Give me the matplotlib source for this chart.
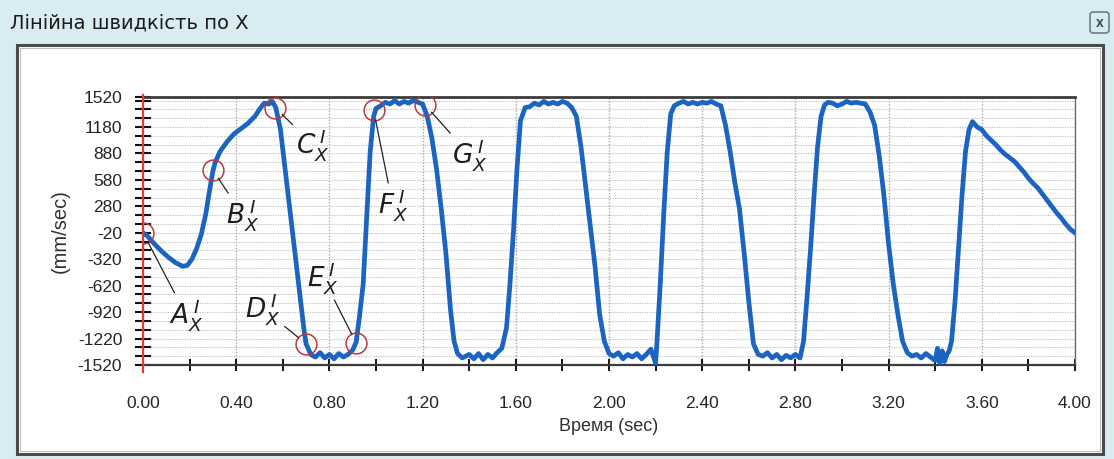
import numpy as np
import matplotlib as mpl
mpl.use('AGG')
import matplotlib.pyplot as plt
from matplotlib.ticker import FixedLocator, MultipleLocator, FormatStrFormatter
from matplotlib.patches import Rectangle, FancyBboxPatch

mpl.rc('font', **{'family': 'sans-serif', 'sans-serif': ['Liberation Sans', 'DejaVu Sans'], 'size': 12})
mpl.rc('mathtext', fontset='dejavusans')
mpl.rc('axes', unicode_minus=False)
mpl.rc('xtick', color='#111111')
mpl.rc('ytick', color='#111111')

# ---- data ----
t = [0.00, 0.02, 0.05, 0.08, 0.11, 0.14, 0.17, 0.19, 0.21, 0.23, 0.25, 0.27, 0.285, 0.30, 0.31,
     0.33, 0.36, 0.39, 0.42, 0.45, 0.48, 0.50, 0.52, 0.54, 0.555, 0.57, 0.59, 0.61, 0.63, 0.65,
     0.67, 0.69, 0.70, 0.72, 0.74, 0.76, 0.78, 0.80, 0.82, 0.84, 0.86, 0.88, 0.90, 0.915, 0.93,
     0.945, 0.96, 0.975, 0.99, 1.00, 1.02, 1.04, 1.06, 1.08, 1.10, 1.12, 1.14, 1.16, 1.18, 1.20,
     1.22, 1.24, 1.26, 1.28, 1.30, 1.32, 1.335, 1.35, 1.37, 1.40, 1.42, 1.44, 1.46, 1.48, 1.50,
     1.52, 1.54, 1.56, 1.575, 1.59, 1.605, 1.62, 1.64, 1.66, 1.68, 1.70, 1.72, 1.74, 1.76, 1.78,
     1.80, 1.82, 1.84, 1.86, 1.88, 1.90, 1.92, 1.94, 1.96, 1.98, 2.00, 2.02, 2.04, 2.06, 2.08,
     2.10, 2.12, 2.14, 2.16, 2.18, 2.19, 2.20, 2.205, 2.22, 2.235, 2.25, 2.265, 2.28, 2.30, 2.32,
     2.34, 2.36, 2.38, 2.40, 2.42, 2.44, 2.46, 2.48, 2.50, 2.52, 2.54, 2.56, 2.58, 2.60, 2.62,
     2.64, 2.66, 2.68, 2.70, 2.72, 2.74, 2.76, 2.78, 2.80, 2.82, 2.835, 2.85, 2.865, 2.88, 2.895,
     2.91, 2.925, 2.94, 2.96, 2.98, 3.00, 3.02, 3.04, 3.06, 3.08, 3.10, 3.12, 3.14, 3.16, 3.18,
     3.20, 3.22, 3.24, 3.26, 3.28, 3.30, 3.32, 3.34, 3.36, 3.38, 3.40, 3.41, 3.42, 3.43, 3.44,
     3.45, 3.46, 3.47, 3.485, 3.50, 3.515, 3.53, 3.545, 3.56, 3.58, 3.60, 3.62, 3.64, 3.66, 3.68,
     3.70, 3.72, 3.74, 3.76, 3.78, 3.80, 3.82, 3.84, 3.86, 3.88, 3.90, 3.92, 3.94, 3.96, 3.98,
     4.00]
v = [-20, -60, -150, -230, -300, -360, -400, -390, -320, -200, -40, 200, 450, 680, 780,
     900, 1010, 1100, 1160, 1220, 1300, 1380, 1450, 1440, 1470, 1400, 1150, 700, 250, -200,
     -650, -1100, -1280, -1400, -1430, -1380, -1440, -1400, -1450, -1390, -1430, -1400, -1350, -1260, -950,
     -600, 150, 900, 1300, 1390, 1420, 1460, 1440, 1480, 1440, 1470, 1450, 1480, 1460, 1440,
     1300, 1050, 700, 250, -250, -900, -1250, -1390, -1440, -1400, -1450, -1390, -1460, -1400, -1440,
     -1380, -1330, -1100, -600, 0, 700, 1250, 1400, 1410, 1450, 1430, 1470, 1440, 1460, 1440,
     1470, 1450, 1400, 1300, 950, 500, 50, -400, -950, -1250, -1390, -1420, -1380, -1450, -1400,
     -1430, -1390, -1450, -1400, -1340, -1420, -1500, -1300, -600, 200, 900, 1330, 1420, 1450, 1470,
     1440, 1460, 1440, 1460, 1450, 1470, 1440, 1420, 1200, 900, 550, 250, -250, -800, -1280,
     -1400, -1420, -1380, -1440, -1400, -1460, -1410, -1440, -1400, -1440, -1250, -750, -200, 400, 950,
     1300, 1430, 1460, 1450, 1420, 1440, 1470, 1450, 1460, 1450, 1440, 1350, 1200, 850, 400,
     -150, -600, -950, -1250, -1380, -1420, -1400, -1440, -1390, -1430, -1470, -1330, -1500, -1360, -1480,
     -1400, -1360, -1250, -800, -200, 400, 900, 1150, 1240, 1180, 1150, 1080, 1030, 980, 920,
     870, 830, 790, 730, 670, 600, 540, 490, 420, 350, 280, 210, 150, 80, 20,
     -20]

# marked points A..G
mark_names = ['A', 'B', 'C', 'D', 'E', 'F', 'G']
mark_t = [0.0, 0.30, 0.567, 0.70, 0.915, 0.99, 1.21]
mark_v = [-20, 690, 1400, -1280, -1270, 1370, 1430]

y_ticks = [-1520, -1220, -920, -620, -320, -20, 280, 580, 880, 1180, 1520]
y_minor = list(range(-1520, 1521, 100))

# label offsets (pixels) from each circle
label_off = [(43, -82), (30, -45), (38, -37), (-43, 35), (-33, 65), (19, -95), (45, -50)]

W, H = 1114, 459
fig = plt.figure(figsize=(W / 100., H / 100.), dpi=100)

# ---- window decoration (pixel coords) ----
bg = fig.add_axes([0, 0, 1, 1], zorder=-5)
bg.set_xlim(0, W)
bg.set_ylim(H, 0)
bg.axis('off')
bg.add_patch(Rectangle((0, 0), W, H, facecolor='#d9ecf1', edgecolor='none'))
grad = np.linspace(0, 1, 256).reshape(1, -1)
cmap = mpl.colors.LinearSegmentedColormap.from_list('tb', ['#eef4f5', '#d6eef3', '#bce9f3'])
bg.imshow(grad, extent=(0, W, 44, 0), aspect='auto', cmap=cmap, zorder=0)
bg.add_patch(Rectangle((17, 45), 1086, 409, facecolor='white', edgecolor='#4a4a4a', lw=2.2, zorder=1))
bg.add_patch(Rectangle((20, 48), 1080, 403, facecolor='none', edgecolor='#bdbdbd', lw=0.8, zorder=1))
bg.add_patch(FancyBboxPatch((1091, 13), 17, 19, boxstyle='round,pad=1,rounding_size=3',
                            facecolor='#d6ecf1', edgecolor='#6b7f86', lw=1.2, zorder=1))
bg.text(1099.5, 23, 'x', ha='center', va='center', fontsize=10, fontweight='bold',
        color='#3c4a50', zorder=2)
bg.text(10, 23, 'Лінійна швидкість по X', ha='left', va='center', fontsize=14,
        family='DejaVu Sans', color='#1a1a1a', zorder=2)

# ---- chart ----
ax = fig.add_axes([143. / W, 1 - 365. / H, (1075 - 143.) / W, (365 - 97.) / H])
ax.plot(t, v, color='#1b64c1', lw=3.4, solid_joinstyle='round', zorder=3)
ax.plot(mark_t, mark_v, 'o', ms=15, mfc='none', mec='#b9383f', mew=1.1, zorder=4)

for name, mt, mv, off in zip(mark_names, mark_t, mark_v, label_off):
    ax.annotate(r'$%s_X^{\,I}$' % name, xy=(mt, mv), xytext=off, textcoords='offset pixels',
                ha='center', va='center', fontsize=19, color='#1e1e1e',
                arrowprops=dict(arrowstyle='-', color='#222222', lw=0.9, shrinkA=1, shrinkB=7),
                zorder=5, annotation_clip=False)

ax.set_xlim(0, 4.0)
ax.set_ylim(-1520, 1520)
ax.xaxis.set_major_locator(MultipleLocator(0.4))
ax.xaxis.set_minor_locator(MultipleLocator(0.2))
ax.xaxis.set_major_formatter(FormatStrFormatter('%.2f'))
ax.yaxis.set_major_locator(FixedLocator(y_ticks))
ax.yaxis.set_minor_locator(FixedLocator(y_minor))

ax.yaxis.grid(True, which='both', linestyle=(0, (1, 1.2)), color='#bcbcbc', lw=0.8)
ax.xaxis.grid(True, which='major', linestyle=(0, (1, 1.2)), color='#a8a8a8', lw=1.0)
ax.set_axisbelow(True)

# red vertical axis line drawn on top of the black ticks
ax.spines['left'].set_visible(False)
ax.axvline(0, ymin=-0.025, ymax=1.008, color='#e23a3a', lw=1.6, zorder=8, clip_on=False)
ax.spines['top'].set_color('#3c3c3c')
ax.spines['top'].set_linewidth(2.0)
ax.spines['bottom'].set_color('#3c3c3c')
ax.spines['bottom'].set_linewidth(1.6)
ax.spines['right'].set_color('#6a6a6a')
ax.spines['right'].set_linewidth(1.0)

ax.tick_params(axis='y', which='both', direction='inout', length=12, width=1.5, color='#111111',
               labelcolor='#252525', labelsize=12.5, pad=9)
ax.tick_params(axis='x', which='both', direction='inout', length=9, width=1.4, color='#111111',
               labelcolor='#252525', labelsize=12.5, pad=18)

ax.set_xlabel('Время (sec)', fontsize=13, color='#303030', labelpad=5)
ax.set_ylabel('(mm/sec)', fontsize=14.5, color='#303030', labelpad=6)

plt.savefig('out.png', dpi=100)
